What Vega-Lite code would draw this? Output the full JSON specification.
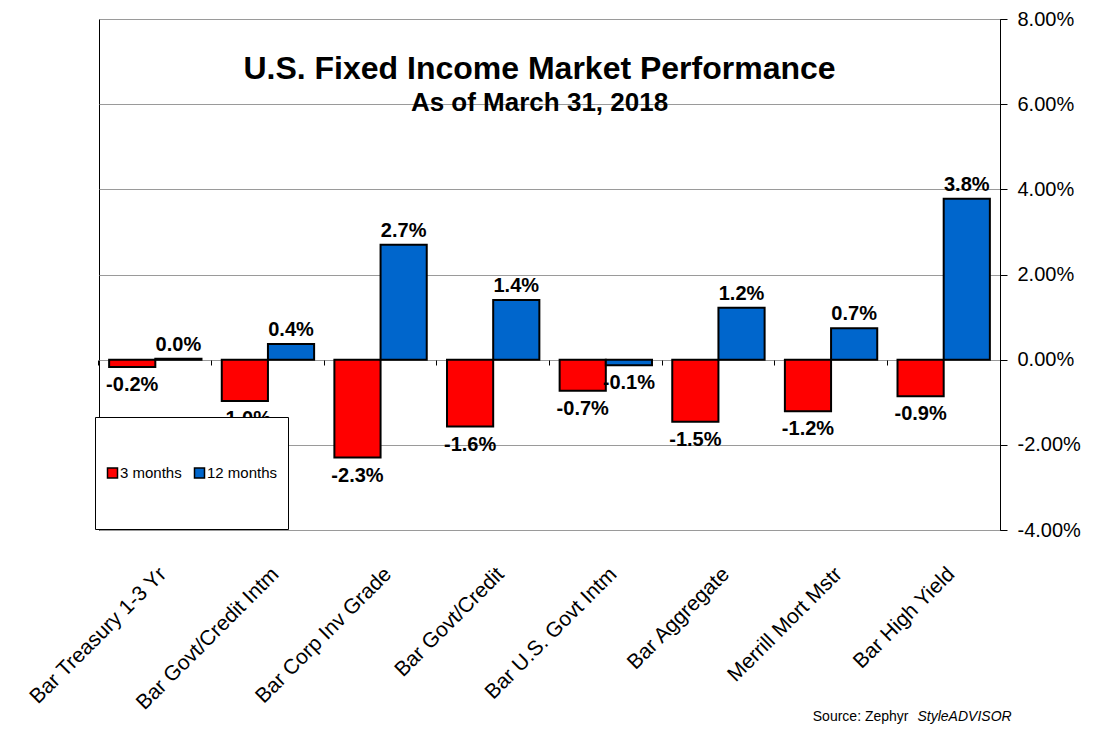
{
  "$schema": "https://vega.github.io/schema/vega-lite/v6.json",
  "width": 901,
  "height": 511,
  "autosize": "none",
  "padding": {"left": 99, "top": 19, "right": 97, "bottom": 204},
  "background": "white",
  "config": {
    "font": "Liberation Sans",
    "view": {"stroke": "black", "strokeWidth": 1}
  },
  "title": {
    "text": "U.S. Fixed Income Market Performance",
    "subtitle": "As of March 31, 2018",
    "fontSize": 32,
    "fontWeight": "bold",
    "color": "black",
    "subtitleFontSize": 26,
    "subtitleFontWeight": "bold",
    "subtitleColor": "black",
    "subtitlePadding": 4,
    "anchor": "middle",
    "frame": "group",
    "offset": -108,
    "dx": -10
  },
  "data": {
    "values": [
      {"index": "Bar Treasury 1-3 Yr", "period": "3 months", "value": -0.0017},
      {"index": "Bar Treasury 1-3 Yr", "period": "12 months", "value": 0.0002},
      {"index": "Bar Govt/Credit Intm", "period": "3 months", "value": -0.0097},
      {"index": "Bar Govt/Credit Intm", "period": "12 months", "value": 0.0037},
      {"index": "Bar Corp Inv Grade", "period": "3 months", "value": -0.0230},
      {"index": "Bar Corp Inv Grade", "period": "12 months", "value": 0.0270},
      {"index": "Bar Govt/Credit", "period": "3 months", "value": -0.0157},
      {"index": "Bar Govt/Credit", "period": "12 months", "value": 0.0140},
      {"index": "Bar U.S. Govt Intm", "period": "3 months", "value": -0.0073},
      {"index": "Bar U.S. Govt Intm", "period": "12 months", "value": -0.0013},
      {"index": "Bar Aggregate", "period": "3 months", "value": -0.0146},
      {"index": "Bar Aggregate", "period": "12 months", "value": 0.0122},
      {"index": "Merrill Mort Mstr", "period": "3 months", "value": -0.0121},
      {"index": "Merrill Mort Mstr", "period": "12 months", "value": 0.0074},
      {"index": "Bar High Yield", "period": "3 months", "value": -0.0086},
      {"index": "Bar High Yield", "period": "12 months", "value": 0.0378}
    ]
  },
  "transform": [
    {"calculate": "replace(format(datum.value, '.1%'), '\u2212', '-')", "as": "label"}
  ],
  "layer": [
    {
      "mark": {"type": "bar", "stroke": "black", "strokeWidth": 2},
      "encoding": {
        "x": {
          "field": "index", "type": "nominal", "sort": null,
          "scale": {"paddingInner": 0.18, "paddingOuter": 0.09},
          "axis": {
            "labelAngle": -45, "labelFontSize": 21, "labelColor": "black",
            "labelPadding": 33, "labelLimit": 400,
            "ticks": false, "domain": false, "grid": false,
            "title": "Source: Zephyr", "titleFontSize": 14, "titleFontWeight": "normal",
            "titleColor": "black", "titleAlign": "right", "titleBaseline": "alphabetic",
            "titleX": 809, "titleY": 190, "titleAngle": 0
          }
        },
        "xOffset": {"field": "period", "type": "nominal", "sort": ["3 months", "12 months"]},
        "y": {
          "field": "value", "type": "quantitative",
          "scale": {"domain": [-0.04, 0.08], "nice": false, "zero": false},
          "axis": {
            "orient": "right", "values": [-0.04, -0.02, 0, 0.02, 0.04, 0.06, 0.08],
            "format": ".2%", "labelExpr": "replace(datum.label, '\u2212', '-')",
            "labelFontSize": 20, "labelColor": "black",
            "tickColor": "black", "tickSize": 7, "labelPadding": 10,
            "domainColor": "black", "gridColor": "#9a9a9a", "gridWidth": 1,
            "title": null
          }
        },
        "color": {
          "field": "period", "type": "nominal",
          "scale": {"domain": ["3 months", "12 months"], "range": ["#FF0000", "#0066CC"]},
          "legend": {
            "orient": "none", "legendX": -4, "legendY": 398,
            "direction": "horizontal", "title": null,
            "fillColor": "white", "strokeColor": "black",
            "padding": 10, "clipHeight": 92,
            "symbolType": "square", "symbolSize": 100,
            "symbolStrokeColor": "black", "symbolStrokeWidth": 1.5,
            "labelFontSize": 15, "labelColor": "black", "labelOffset": 0,
            "columnPadding": 10
          }
        }
      }
    },
    {
      "transform": [{"filter": "datum.value >= 0"}],
      "mark": {"type": "text", "fontWeight": "bold", "fontSize": 20, "baseline": "alphabetic", "dy": -8, "color": "black"},
      "encoding": {
        "x": {
          "field": "index", "type": "nominal", "sort": null,
          "axis": {
            "orient": "top", "offset": -341, "labels": false, "domain": false, "grid": false,
            "ticks": true, "tickSize": -5, "tickColor": "black", "bandPosition": -0.11,
            "title": "StyleADVISOR", "titleFontSize": 14, "titleFontWeight": "normal",
            "titleFontStyle": "italic", "titleColor": "black", "titleAlign": "left",
            "titleBaseline": "alphabetic", "titleX": 818, "titleY": 360, "titleAngle": 0
          }
        },
        "xOffset": {"field": "period", "type": "nominal", "sort": ["3 months", "12 months"]},
        "y": {"field": "value", "type": "quantitative"},
        "text": {"field": "label", "type": "nominal"}
      }
    },
    {
      "transform": [{"filter": "datum.value < 0"}],
      "mark": {"type": "text", "fontWeight": "bold", "fontSize": 20, "baseline": "top", "dy": 8, "color": "black"},
      "encoding": {
        "x": {"field": "index", "type": "nominal", "sort": null, "axis": null},
        "xOffset": {"field": "period", "type": "nominal", "sort": ["3 months", "12 months"]},
        "y": {"field": "value", "type": "quantitative"},
        "text": {"field": "label", "type": "nominal"}
      }
    }
  ],
  "resolve": {"axis": {"x": "independent"}}
}
